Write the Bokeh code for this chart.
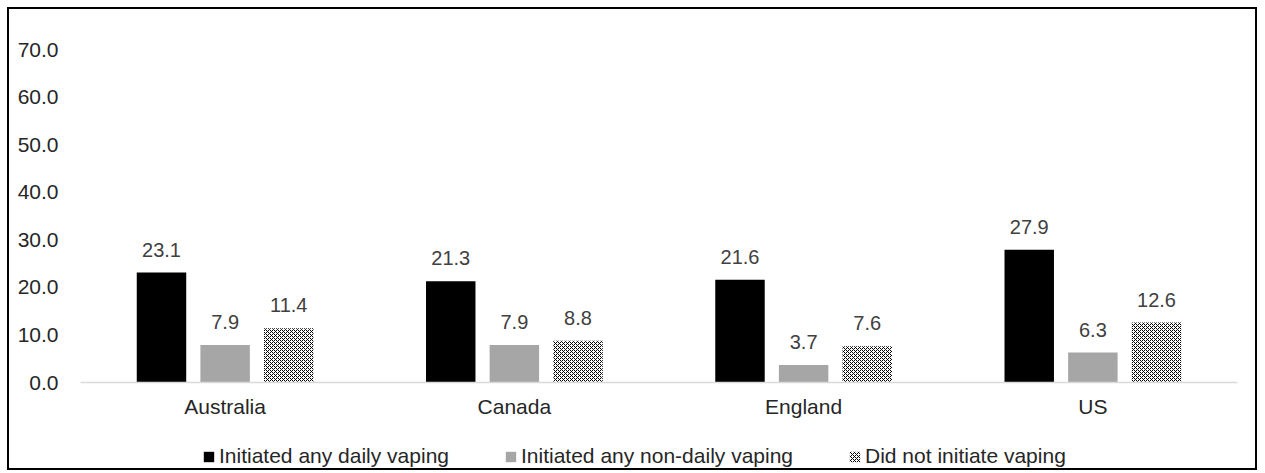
from bokeh.plotting import figure
from bokeh.layouts import column
from bokeh.models import (ColumnDataSource, FactorRange, Legend, LegendItem,
                          SingleIntervalTicker, NumeralTickFormatter, Range1d)
from bokeh.transform import dodge
from bokeh.embed import file_html
from bokeh.resources import INLINE
from bokeh.core.properties import value

countries = ["Australia", "Canada", "England", "US"]
daily = [23.1, 21.3, 21.6, 27.9]
non_daily = [7.9, 7.9, 3.7, 6.3]
did_not = [11.4, 8.8, 7.6, 12.6]
series_names = ["Initiated any daily vaping", "Initiated any non-daily vaping",
                "Did not initiate vaping"]
y_max = 70
y_step = 10

FONT = "Liberation Sans"
W = 1246

p = figure(x_range=FactorRange(factors=countries, range_padding=0),
           y_range=Range1d(0, y_max),
           width=W, height=425, output_backend="svg", toolbar_location=None,
           min_border_left=71, min_border_right=18, min_border_top=40,
           min_border_bottom=52)
p.outline_line_color = None
p.xgrid.visible = False
p.ygrid.visible = False
p.background_fill_color = "white"
p.border_fill_color = "white"

styles = [
    dict(fill_color="#000000", line_color=None),
    dict(fill_color="#a6a6a6", line_color=None),
    dict(fill_color="white", line_color=None, hatch_pattern="diagonal_cross",
         hatch_color="#000000", hatch_scale=4, hatch_weight=1),
]
offsets = [-0.22, 0.0, 0.22]
sources = []
for vals, st, off in zip([daily, non_daily, did_not], styles, offsets):
    src = ColumnDataSource(dict(cat=countries, val=vals, lbl=[f"{v:.1f}" for v in vals]))
    sources.append(src)
    p.vbar(x=dodge("cat", off, range=p.x_range), top="val", width=0.171, source=src, **st)
    p.text(x=dodge("cat", off, range=p.x_range), y="val", text="lbl", source=src,
           text_align="center", text_baseline="bottom", y_offset=-16,
           text_font=value(FONT), text_font_size="20px", text_color="#404040")

p.yaxis.ticker = SingleIntervalTicker(interval=y_step)
p.yaxis.formatter = NumeralTickFormatter(format="0.0")
p.yaxis.axis_line_color = None
p.yaxis.major_tick_line_color = None
p.yaxis.minor_tick_line_color = None
p.yaxis.major_tick_out = 0
p.yaxis.major_label_standoff = 18
p.yaxis.major_label_text_font = FONT
p.yaxis.major_label_text_font_size = "21px"
p.yaxis.major_label_text_color = "#262626"

p.xaxis.axis_line_color = "#d9d9d9"
p.xaxis.axis_line_width = 1.5
p.xaxis.major_tick_line_color = None
p.xaxis.minor_tick_line_color = None
p.xaxis.major_tick_out = 0
p.xaxis.major_label_standoff = 12
p.xaxis.major_label_text_font = FONT
p.xaxis.major_label_text_font_size = "21px"
p.xaxis.major_label_text_color = "#262626"

# legend strip below the chart: hidden copies of the series supply the swatches
lg = figure(width=W, height=34, output_backend="svg", toolbar_location=None,
            x_range=FactorRange(factors=countries, range_padding=0), y_range=Range1d(0, y_max),
            x_axis_location=None, y_axis_location=None,
            min_border_left=0, min_border_right=0, min_border_top=0, min_border_bottom=0)
lg.outline_line_color = None
lg.xgrid.visible = False
lg.ygrid.visible = False
items = []
for name, st, src in zip(series_names, styles, sources):
    r = lg.vbar(x="cat", top="val", width=0.171, source=src, visible=False, **st)
    items.append(LegendItem(label=name, renderers=[r]))
legend = Legend(items=items, orientation="horizontal", location=(122, 0),
                glyph_width=13, glyph_height=13, label_standoff=4, spacing=55,
                padding=0, margin=0, border_line_color=None, background_fill_alpha=0,
                inactive_fill_alpha=0,
                label_text_font=FONT, label_text_font_size="21px",
                label_text_color="#262626")
lg.add_layout(legend, "center")

layout = column(p, lg, spacing=0)
layout.styles = {"border": "2px solid black"}
layout.margin = (7, 0, 0, 7)

open("out.html", "w").write(file_html(layout, INLINE))
